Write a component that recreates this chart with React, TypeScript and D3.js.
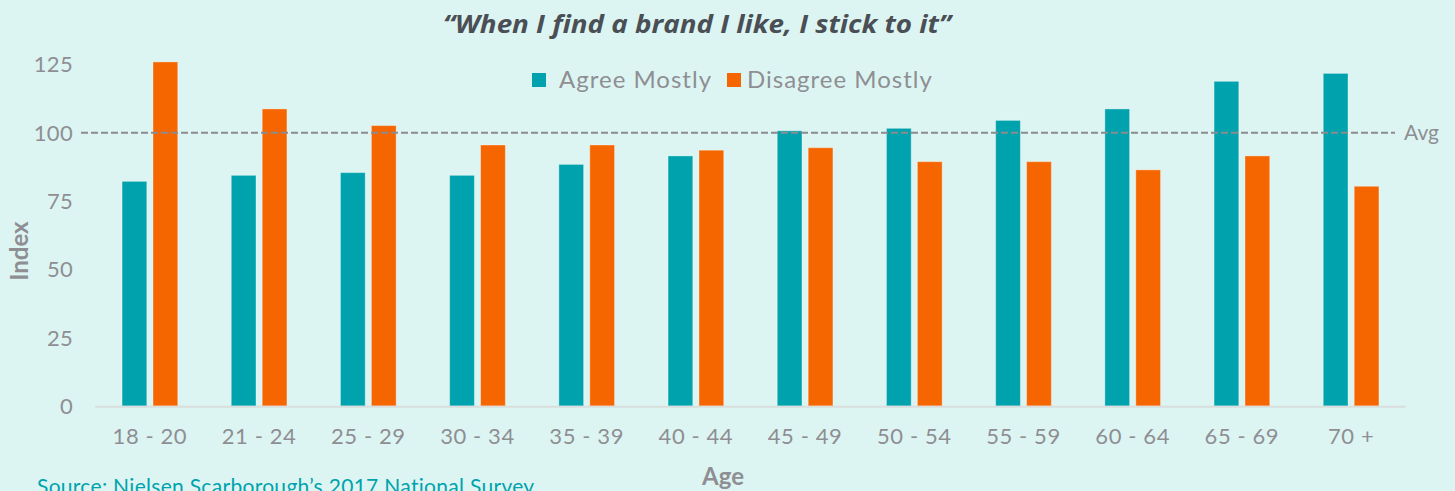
import React from "react";
import * as d3 from "d3";

const categories = ["18 - 20", "21 - 24", "25 - 29", "30 - 34", "35 - 39", "40 - 44", "45 - 49", "50 - 54", "55 - 59", "60 - 64", "65 - 69", "70 +"];
const seriesNames = ["Agree Mostly", "Disagree Mostly"];
const agreeMostly = [82.2, 84.4, 85.4, 84.4, 88.4, 91.5, 100.7, 101.6, 104.5, 108.7, 118.8, 121.7];
const disagreeMostly = [125.9, 108.7, 102.6, 95.5, 95.5, 93.6, 94.5, 89.4, 89.4, 86.4, 91.5, 80.4];
const yTicks = [0, 25, 50, 75, 100, 125];
const avgValue = 100;

const W = 1455;
const H = 491;
const COLORS = ["#00A3AD", "#F56600"];
const BG = "#DDF5F2";
const GRAY = "#8E8E93";
const FONT = "Lato, 'Open Sans', sans-serif";

export default function App() {
  const x = d3.scaleBand<string>().domain(categories).range([95.3, 1405.7]).paddingInner(0);
  const groupW = 55.7;
  const x1 = d3.scaleBand<string>().domain(seriesNames).range([-groupW / 2, groupW / 2]).paddingInner(0.2);
  const y = d3.scaleLinear().domain([0, 100]).range([406, 132.7]);
  const values = [agreeMostly, disagreeMostly];

  return (
    <svg width={W} height={H} style={{ position: "absolute", left: 0, top: 0, display: "block" }} fontFamily={FONT}>
      <rect x={0} y={0} width={W} height={H} fill={BG} />
      <text
        x={697}
        y={33}
        textAnchor="middle"
        fontSize={25}
        fontWeight={700}
        fontStyle="italic"
        fill="#4A4F55"
        fontFamily="'Open Sans', Lato, sans-serif"
        textLength={508}
        lengthAdjust="spacingAndGlyphs"
      >
        “When I find a brand I like, I stick to it”
      </text>

      {/* y tick labels */}
      {yTicks.map((t) => (
        <text key={t} x={73} y={y(t)} dy="0.36em" textAnchor="end" fontSize={22} fill={GRAY} letterSpacing={0.3}>
          {t}
        </text>
      ))}

      {/* bars */}
      {categories.map((c, i) => (
        <g key={c} transform={`translate(${(x(c) as number) + x.bandwidth() / 2},0)`}>
          {seriesNames.map((s, j) => (
            <rect
              key={s}
              x={x1(s) as number}
              y={y(values[j][i])}
              width={x1.bandwidth()}
              height={y(0) - y(values[j][i])}
              fill={COLORS[j]}
              stroke="rgba(255,255,255,0.35)"
              strokeWidth={1}
            />
          ))}
        </g>
      ))}

      {/* baseline axis */}
      <line x1={95.3} x2={1405.7} y1={y(0) + 0.7} y2={y(0) + 0.7} stroke="#D9DEDD" strokeWidth={2} />

      {/* avg line */}
      <line x1={81} x2={1395} y1={y(avgValue)} y2={y(avgValue)} stroke="#8A8C8E" strokeWidth={2} strokeDasharray="7,3" />
      <text x={1404} y={y(avgValue)} dy="0.36em" fontSize={21} fill={GRAY}>
        Avg
      </text>

      {/* category labels */}
      {categories.map((c) => (
        <text key={c} x={(x(c) as number) + x.bandwidth() / 2} y={444} textAnchor="middle" fontSize={22} fill={GRAY} letterSpacing={0.6}>
          {c}
        </text>
      ))}

      {/* legend */}
      <rect x={532} y={73} width={14} height={14} fill={COLORS[0]} />
      <text x={559} y={88} fontSize={24} fill={GRAY} letterSpacing={1}>{seriesNames[0]}</text>
      <rect x={727} y={73} width={14} height={14} fill={COLORS[1]} />
      <text x={747} y={88} fontSize={24} fill={GRAY} letterSpacing={1}>{seriesNames[1]}</text>

      {/* axis titles */}
      <text transform="translate(28,251) rotate(-90)" textAnchor="middle" fontSize={24} fontWeight={700} fill={GRAY}>
        Index
      </text>
      <text x={723} y={485} textAnchor="middle" fontSize={24} fontWeight={700} fill={GRAY}>
        Age
      </text>

      {/* source */}
      <text x={37} y={494} fontSize={21} fill="#00A3AD" letterSpacing={0.3}>
        Source: Nielsen Scarborough’s 2017 National Survey
      </text>
    </svg>
  );
}
